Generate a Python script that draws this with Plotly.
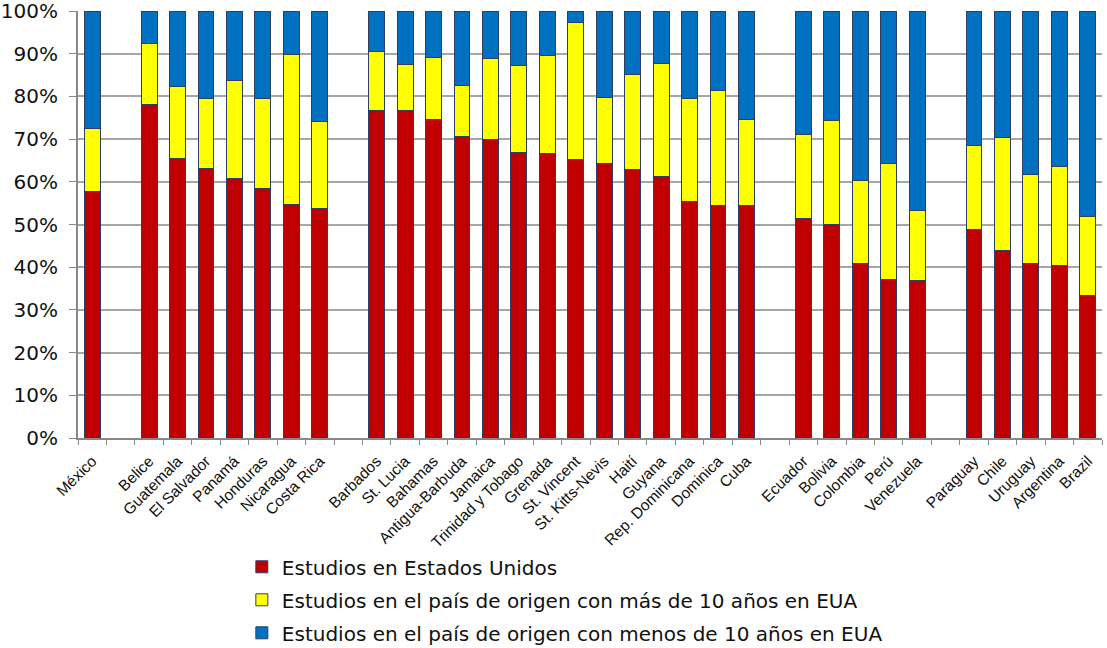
import plotly.graph_objects as go

categories = ["México", " ",
              "Belice", "Guatemala", "El Salvador", "Panamá", "Honduras", "Nicaragua", "Costa Rica", "  ",
              "Barbados", "St. Lucia", "Bahamas", "Antigua-Barbuda", "Jamaica", "Trinidad y Tobago", "Grenada",
              "St. Vincent", "St. Kitts-Nevis", "Haití", "Guyana", "Rep. Dominicana", "Dominica", "Cuba", "   ",
              "Ecuador", "Bolivia", "Colombia", "Perú", "Venezuela", "    ",
              "Paraguay", "Chile", "Uruguay", "Argentina", "Brazil"]

estudios_eua = [57.7, None,
                78.1, 65.5, 63.0, 60.7, 58.5, 54.6, 53.7, None,
                76.8, 76.8, 74.6, 70.7, 70.0, 66.9, 66.6, 65.2, 64.4, 62.9, 61.2, 55.3, 54.4, 54.4, None,
                51.5, 50.0, 40.9, 37.1, 37.0, None,
                48.9, 44.0, 40.9, 40.4, 33.4]

origen_mas_10 = [14.8, None,
                 14.4, 16.8, 16.6, 23.0, 21.0, 35.2, 20.5, None,
                 13.8, 10.7, 14.5, 11.9, 18.8, 20.3, 23.0, 32.1, 15.4, 22.2, 26.4, 24.3, 27.0, 20.3, None,
                 19.6, 24.3, 19.3, 27.1, 16.2, None,
                 19.7, 26.4, 20.8, 23.2, 18.5]

origen_menos_10 = [27.5, None,
                   7.5, 17.7, 20.4, 16.3, 20.5, 10.2, 25.8, None,
                   9.4, 12.5, 10.9, 17.4, 11.2, 12.8, 10.4, 2.7, 20.2, 14.9, 12.4, 20.4, 18.6, 25.3, None,
                   28.9, 25.7, 39.8, 35.8, 46.8, None,
                   31.4, 29.6, 38.3, 36.4, 48.1]

y_tick_values = [0, 10, 20, 30, 40, 50, 60, 70, 80, 90, 100]
y_tick_labels = ["0%", "10%", "20%", "30%", "40%", "50%", "60%", "70%", "80%", "90%", "100%"]

series_names = ["Estudios en Estados Unidos",
                "Estudios en el país de origen con más de 10 años en EUA",
                "Estudios en el país de origen con menos de 10 años en EUA"]
series_colors = ["#C00000", "#FFFF00", "#0070C0"]
series_values = [estudios_eua, origen_mas_10, origen_menos_10]

fig = go.Figure()
for i, (name, color, vals) in enumerate(zip(series_names, series_colors, series_values)):
    fig.add_trace(go.Bar(
        x=categories, y=vals, name=name, legendgroup=f"g{i}",
        marker=dict(color=color, line=dict(color="#2E3F66", width=1)),
    ))

fig.update_layout(
    barmode="stack",
    bargap=0.44,
    width=1107, height=648,
    margin=dict(l=78, r=5, t=11, b=210, autoexpand=False),
    plot_bgcolor="white", paper_bgcolor="white",
    showlegend=True,
    legend=dict(
        x=0.160, y=-0.256, xanchor="left", yanchor="top",
        traceorder="grouped", tracegroupgap=4,
        font=dict(family="DejaVu Sans", size=20, color="#111111"),
        itemwidth=30,
    ),
    xaxis=dict(
        type="category", tickson="boundaries", ticks="outside", ticklen=5,
        tickcolor="#888888", showline=True, linecolor="#888888", linewidth=2,
        showgrid=False, tickangle=-45, automargin=False, ticklabelstandoff=6,
        tickfont=dict(family="Liberation Sans", size=15.5, color="#111111"),
        range=[-0.5, len(categories) - 0.5],
    ),
    yaxis=dict(
        range=[0, 100], tickvals=y_tick_values, ticktext=y_tick_labels,
        ticks="outside", ticklen=7, tickcolor="#888888", automargin=False,
        showline=True, linecolor="#888888", linewidth=2,
        showgrid=True, gridcolor="#A6A6A6", gridwidth=1.5,
        tickfont=dict(family="DejaVu Sans", size=20, color="#111111"),
        zeroline=False, ticklabeloverflow="allow", ticklabelstandoff=7,
    ),
)

fig.write_html("out.html", config={"displayModeBar": False},
               post_script="document.body.style.margin='0';")
